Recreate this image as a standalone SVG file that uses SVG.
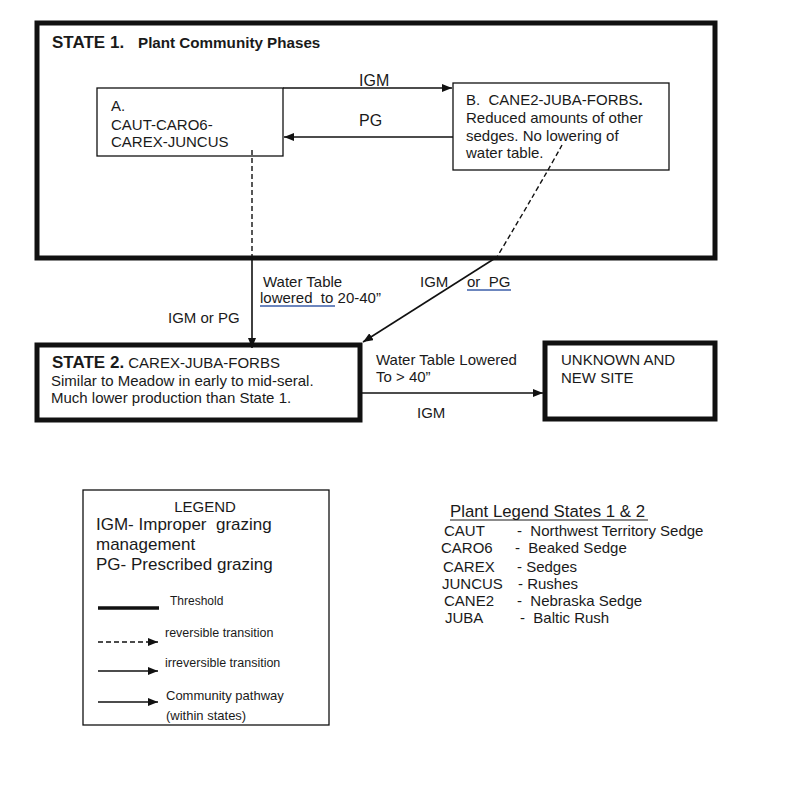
<svg xmlns="http://www.w3.org/2000/svg" width="800" height="789" viewBox="0 0 800 789">
<style>
text{font-family:"Liberation Sans",Arial,sans-serif;fill:#1a1a1a;font-size:15px;white-space:pre}
.b{font-weight:bold}
.big{font-size:17px}
.lbl{font-size:16px}
.sm{font-size:13px}
.thick{fill:#fff;stroke:#111;stroke-width:5}
.thin{fill:#fff;stroke:#111;stroke-width:1.3}
.ln{stroke:#111;stroke-width:1.6;fill:none}
.dash{stroke:#111;stroke-width:1.4;fill:none;stroke-dasharray:5 3}
.ul{stroke:#3b5ea8;stroke-width:1.3}
</style>
<defs>
<marker id="ah" markerUnits="userSpaceOnUse" markerWidth="10" markerHeight="8" refX="10" refY="4" orient="auto">
<path d="M0,0 L10,4 L0,8 z" fill="#111"/>
</marker>
</defs>
<rect width="800" height="789" fill="#fff"/>

<g id="state1">
<rect class="thick" x="37" y="23" width="678" height="235"/>
<text x="52" y="48" class="b big">STATE 1.</text>
<text x="138" y="48" class="b" style="font-size:15.2px">Plant Community Phases</text>
</g>

<g id="phaseA">
<rect class="thin" x="97" y="88" width="186" height="68"/>
<text x="111" y="111">A.</text>
<text x="111" y="130">CAUT-CARO6-</text>
<text x="111" y="147">CAREX-JUNCUS</text>
</g>

<g id="phaseB">
<rect class="thin" x="453" y="83" width="216" height="87"/>
<text x="466" y="105">B.  CANE2-JUBA-FORBS<tspan class="b">.</tspan></text>
<text x="466" y="123">Reduced amounts of other</text>
<text x="466" y="141">sedges. No lowering of</text>
<text x="466" y="158">water table.</text>
</g>

<g id="state2">
<rect class="thick" x="37" y="345" width="323" height="75"/>
<text x="52" y="368"><tspan class="b big">STATE 2.</tspan> CAREX-JUBA-FORBS</text>
<text x="51" y="386">Similar to Meadow in early to mid-seral.</text>
<text x="51" y="403">Much lower production than State 1.</text>
</g>

<g id="unknown">
<rect class="thick" x="545" y="343" width="170" height="76"/>
<text x="561" y="365">UNKNOWN AND</text>
<text x="561" y="383">NEW SITE</text>
</g>

<g id="connectors">
<line class="ln" x1="283" y1="88" x2="452" y2="88" marker-end="url(#ah)"/>
<line class="ln" x1="453" y1="137" x2="284" y2="137" marker-end="url(#ah)"/>
<line class="dash" x1="252" y1="150" x2="252" y2="258"/>
<line class="ln" x1="252" y1="258" x2="252" y2="348" stroke-width="2" marker-end="url(#ah)"/>
<path class="dash" d="M562,145 Q540,185 497,257"/>
<line class="ln" x1="497" y1="257" x2="363" y2="342" stroke-width="2" marker-end="url(#ah)"/>
<line class="ln" x1="362" y1="393" x2="543" y2="393" stroke-width="2" marker-end="url(#ah)"/>
</g>

<g id="connector-labels">
<text x="359" y="86" class="lbl">IGM</text>
<text x="359" y="126" class="lbl">PG</text>
<text x="263" y="287">Water Table</text>
<text x="260" y="303">lowered  to 20-40”</text>
<line class="ul" x1="260" y1="306" x2="335" y2="306"/>
<text x="168" y="323">IGM or PG</text>
<text x="420" y="287">IGM</text>
<text x="467" y="287">or  PG</text>
<line class="ul" x1="467" y1="290" x2="511" y2="290"/>
<text x="376" y="365">Water Table Lowered</text>
<text x="376" y="382">To &gt; 40”</text>
<text x="417" y="418">IGM</text>
</g>

<g id="legend">
<rect class="thin" x="83" y="490" width="246" height="235"/>
<text x="205" y="512" text-anchor="middle">LEGEND</text>
<text x="96" y="530" class="big">IGM- Improper  grazing</text>
<text x="96" y="550" class="big">management</text>
<text x="96" y="570" class="big">PG- Prescribed grazing</text>
<line x1="98" y1="608" x2="159" y2="608" stroke="#111" stroke-width="3.5"/>
<text x="170" y="605" class="sm" style="font-size:12px">Threshold</text>
<line class="dash" x1="98" y1="642" x2="158" y2="642" stroke-width="1.2" stroke-dasharray="4 3" marker-end="url(#ah)"/>
<text x="165" y="637" class="sm" style="font-size:12.5px">reversible transition</text>
<line class="ln" x1="98" y1="671" x2="158" y2="671" stroke-width="2" marker-end="url(#ah)"/>
<text x="165" y="667" class="sm" style="font-size:12.5px">irreversible transition</text>
<line class="ln" x1="98" y1="702" x2="158" y2="702" stroke-width="1.2" marker-end="url(#ah)"/>
<text x="166" y="700" class="sm">Community pathway</text>
<text x="166" y="720" class="sm">(within states)</text>
</g>

<g id="plant-legend">
<text x="450" y="517" style="font-size:16.8px">Plant Legend States 1 &amp; 2</text>
<line x1="450" y1="520" x2="648" y2="520" stroke="#1a1a1a" stroke-width="1.2"/>
<text x="444" y="536">CAUT</text><text x="517" y="536">-  Northwest Territory Sedge</text>
<text x="441" y="553">CARO6</text><text x="515" y="553">-  Beaked Sedge</text>
<text x="443" y="572">CAREX</text><text x="517" y="572">- Sedges</text>
<text x="442" y="589">JUNCUS</text><text x="518" y="589">- Rushes</text>
<text x="444" y="606">CANE2</text><text x="517" y="606">-  Nebraska Sedge</text>
<text x="445" y="623">JUBA</text><text x="520" y="623">-  Baltic Rush</text>
</g>
</svg>
